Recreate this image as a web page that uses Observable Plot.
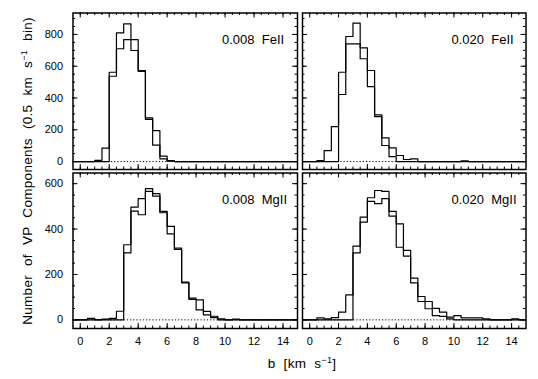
<!DOCTYPE html>
<html><head><meta charset="utf-8">
<script src="https://cdn.jsdelivr.net/npm/d3@7"></script>
<script src="https://cdn.jsdelivr.net/npm/@observablehq/plot@0.6"></script>
<style>
body{margin:0;background:#fff;}
#chart{position:relative;width:538px;height:379px;overflow:hidden;font-family:"Liberation Sans",Arial,sans-serif;color:#000;}
#chart svg{position:absolute;left:0;top:0;}
.ytitle{position:absolute;left:27px;top:171px;transform:translate(-50%,-50%) rotate(-90deg);white-space:nowrap;font-size:13.5px;word-spacing:5px;letter-spacing:0.3px;}
.xtitle{position:absolute;left:302px;top:363px;transform:translate(-50%,-50%);white-space:nowrap;font-size:13.5px;word-spacing:4px;letter-spacing:0.3px;}
sup{font-size:9px;vertical-align:5px;line-height:0;word-spacing:0;}
</style></head><body>
<div id="chart">
  <div class="ytitle">Number of VP Components (0.5 km s<sup>−1</sup> bin)</div>
  <div class="xtitle">b [km s<sup>−1</sup>]</div>
</div>
<script>
// bin starts (0.5 km/s bins)
const binStart = [0,0.5,1,1.5,2,2.5,3,3.5,4,4.5,5,5.5,6,6.5,7,7.5,8,8.5,9,9.5,10,10.5,11,11.5,12,12.5,13,13.5,14,14.5];

// counts per bin, two histograms per panel
const fe008A = [0,0,8,84,562,810,867,768,573,275,195,34,6,0,0,0,0,0,0,0,0,0,0,0,0,0,0,0,0,0];
const fe008B = [0,0,0,0,537,710,768,699,567,265,103,17,2,0,0,0,0,0,0,0,0,0,0,0,0,0,0,0,0,0];
const fe020A = [0,6,69,220,562,787,871,716,573,294,149,86,38,13,17,0,0,0,0,0,0,5,0,0,0,0,0,0,0,0];
const fe020B = [0,0,0,0,422,741,741,647,472,283,101,31,0,0,0,0,0,0,0,0,0,0,0,0,0,0,0,0,0,0];
const mg008A = [0,7,0,3,7,38,331,497,534,578,556,478,412,316,166,96,88,37,16,4,0,3,0,0,0,0,0,0,0,0];
const mg008B = [0,0,0,0,0,0,295,479,463,566,545,472,379,310,163,90,44,22,10,0,0,0,0,0,0,0,0,0,0,0];
const mg020A = [0,9,4,10,34,110,325,453,538,570,566,478,423,306,184,103,81,51,34,12,19,9,9,9,4,0,0,0,4,0];
const mg020B = [0,0,0,0,0,0,295,431,522,512,534,457,320,281,163,81,49,19,15,4,0,0,0,0,0,0,0,0,0,0];

const labels = ["0.008\u00a0\u00a0FeII","0.020\u00a0\u00a0FeII","0.008\u00a0\u00a0MgII","0.020\u00a0\u00a0MgII"];

const xDomain = [-0.5, 15];
const xMajor = [0,2,4,6,8,10,12,14];
const xMinor = [0,0.5,1,1.5,2,2.5,3,3.5,4,4.5,5,5.5,6,6.5,7,7.5,8,8.5,9,9.5,10,10.5,11,11.5,12,12.5,13,13.5,14,14.5];
const yTopDomain = [-50, 935];
const yTopMajor = [0,200,400,600,800];
const yTopMinor = [0,50,100,150,200,250,300,350,400,450,500,550,600,650,700,750,800,850,900];
const yBotDomain = [-38, 647];
const yBotMajor = [0,200,400,600];
const yBotMinor = [0,50,100,150,200,250,300,350,400,450,500,550,600];

const W = 538, H = 379;
const SW = 1.2, FW = 1.5;

function steps(v){
  return [{b:xDomain[0], n:0}, ...binStart.map((b,i)=>({b, n:v[i]})), {b:xDomain[1], n:0}];
}

function panel({A,B,label,yDomain,yMajor,yMinor,left,right,top,bottom,showX,showY}){
  const h = bottom - top, w = right - left;
  const maj = 5, min = 2.5;
  const marks = [
    Plot.ruleY([0], {stroke:"#000", strokeWidth:1, strokeDasharray:"1.2,2"}),
    Plot.line(steps(A), {x:"b", y:"n", curve:"step-after", stroke:"#000", strokeWidth:SW}),
    Plot.line(steps(B), {x:"b", y:"n", curve:"step-after", stroke:"#000", strokeWidth:SW}),
    Plot.ruleX(xMinor, {x:d=>d, insetTop:h-min, stroke:"#000", strokeWidth:1}),
    Plot.ruleX(xMinor, {x:d=>d, insetBottom:h-min, stroke:"#000", strokeWidth:1}),
    Plot.ruleX(xMajor, {x:d=>d, insetTop:h-maj, stroke:"#000", strokeWidth:1}),
    Plot.ruleX(xMajor, {x:d=>d, insetBottom:h-maj, stroke:"#000", strokeWidth:1}),
    Plot.ruleY(yMinor, {y:d=>d, insetRight:w-min, stroke:"#000", strokeWidth:1}),
    Plot.ruleY(yMinor, {y:d=>d, insetLeft:w-min, stroke:"#000", strokeWidth:1}),
    Plot.ruleY(yMajor, {y:d=>d, insetRight:w-maj, stroke:"#000", strokeWidth:1}),
    Plot.ruleY(yMajor, {y:d=>d, insetLeft:w-maj, stroke:"#000", strokeWidth:1}),
    Plot.frame({stroke:"#000", strokeWidth:FW}),
    Plot.text([label], {text:d=>d, frameAnchor:"top-left", dx:149, dy:22, textAnchor:"start", fontSize:13, fill:"#000"})
  ];
  if (showX) marks.push(Plot.text(xMajor, {x:d=>d, text:d=>String(d), frameAnchor:"bottom", dy:16, fontSize:11, fill:"#000"}));
  if (showY) marks.push(Plot.text(yMajor, {y:d=>d, text:d=>String(d), frameAnchor:"left", dx:-10, textAnchor:"end", fontSize:11, fill:"#000"}));
  return Plot.plot({
    width:W, height:H,
    marginLeft:left, marginRight:W-right, marginTop:top, marginBottom:H-bottom,
    x:{domain:xDomain, axis:null},
    y:{domain:yDomain, axis:null},
    style:{background:"transparent", fontFamily:"'Liberation Sans', Arial, sans-serif", overflow:"visible"},
    marks
  });
}

const chart = document.getElementById("chart");
const L = {left:72.5, right:297}, R = {left:302, right:525.5};
const T = {top:12.5, bottom:169}, Bt = {top:172.5, bottom:328};
chart.append(panel({A:fe008A,B:fe008B,label:labels[0],yDomain:yTopDomain,yMajor:yTopMajor,yMinor:yTopMinor,...L,...T,showX:false,showY:true}));
chart.append(panel({A:fe020A,B:fe020B,label:labels[1],yDomain:yTopDomain,yMajor:yTopMajor,yMinor:yTopMinor,...R,...T,showX:false,showY:false}));
chart.append(panel({A:mg008A,B:mg008B,label:labels[2],yDomain:yBotDomain,yMajor:yBotMajor,yMinor:yBotMinor,...L,...Bt,showX:true,showY:true}));
chart.append(panel({A:mg020A,B:mg020B,label:labels[3],yDomain:yBotDomain,yMajor:yBotMajor,yMinor:yBotMinor,...R,...Bt,showX:true,showY:false}));
</script>
</body></html>
